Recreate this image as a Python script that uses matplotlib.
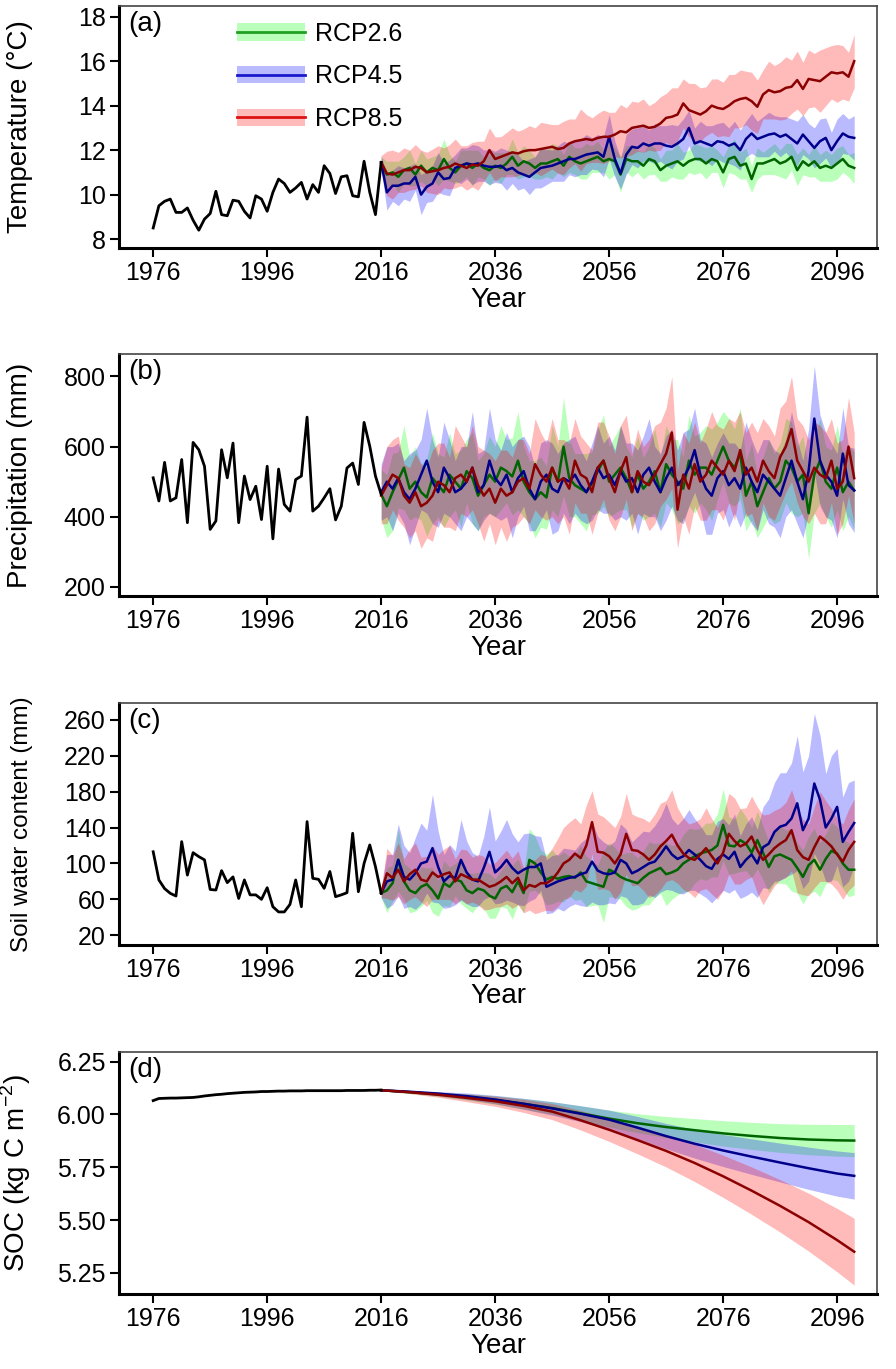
import numpy as np
import matplotlib
matplotlib.use('Agg')
from matplotlib import pyplot as plt
from matplotlib.patches import Patch
from matplotlib.lines import Line2D
from matplotlib.ticker import FormatStrFormatter

plt.rcParams['font.family'] = ['Liberation Sans', 'DejaVu Sans']
plt.rcParams['mathtext.fontset'] = 'custom'
plt.rcParams['mathtext.rm'] = 'Liberation Sans'

# ---------------- data ----------------
hist_years = np.arange(1976, 2017)
proj_years = np.arange(2016, 2100)
scenarios = ['RCP2.6', 'RCP4.5', 'RCP8.5']

temp_hist = [8.5, 9.5, 9.7, 9.8, 9.2, 9.2, 9.4, 8.85, 8.4, 8.9,
             9.15, 10.15, 9.1, 9.05, 9.75, 9.7, 9.25, 8.95, 9.95, 9.8,
             9.25, 10.1, 10.7, 10.5, 10.1, 10.3, 10.55, 9.8, 10.45, 10.1,
             11.3, 10.95, 10.05, 10.8, 10.85, 9.95, 9.9, 11.5, 10.1, 9.1,
             11.45]
temp_26 = [11.4, 10.9, 11.0, 10.8, 11.1, 11.2, 10.9, 11.3, 11.0, 11.2,
           11.1, 11.6, 11.2, 11.0, 11.3, 11.4, 11.2, 11.4, 11.2, 11.1,
           11.3, 11.2, 11.4, 11.7, 11.3, 11.5, 11.4, 11.2, 11.4, 11.4,
           11.5, 11.6, 11.3, 11.7, 11.5, 11.4, 11.5, 11.6, 11.7, 11.5,
           11.6, 11.5, 10.9, 11.6, 11.5, 11.5, 11.3, 11.6, 11.5, 11.1,
           11.3, 11.4, 11.5, 11.3, 11.5, 11.6, 11.6, 11.4, 11.6, 11.5,
           11.0, 11.6, 11.7, 11.3, 11.4, 10.7, 11.4, 11.4, 11.5, 11.6,
           11.4, 11.5, 11.7, 11.1, 11.5, 11.3, 11.5, 11.2, 11.3, 11.2,
           11.4, 11.6, 11.3, 11.2]
temp_45 = [11.45, 10.1, 10.4, 10.4, 10.5, 10.5, 10.8, 10.0, 10.35, 10.5,
           11.0, 10.7, 10.75, 11.2, 11.3, 11.4, 11.35, 11.4, 11.3, 11.25,
           11.25, 11.3, 11.1, 11.2, 11.0, 10.9, 10.8, 11.0, 11.2, 11.25,
           11.3, 11.4, 11.5, 11.6, 11.6, 11.7, 11.8, 11.85, 11.9, 11.7,
           12.6, 11.6, 10.95, 11.8, 12.15, 12.1, 12.3, 12.2, 12.3, 12.3,
           12.2, 12.15, 12.3, 12.5, 13.0, 12.3, 12.4, 12.3, 12.2, 12.4,
           12.35, 12.2, 12.3, 12.0, 12.5, 12.75, 12.5, 12.6, 12.7, 12.75,
           12.6, 12.7, 12.5, 12.3, 12.7, 12.4, 12.1, 12.4, 12.55, 12.0,
           12.4, 12.75, 12.6, 12.55]
temp_85 = [11.45, 10.95, 10.9, 11.0, 11.1, 11.1, 11.25, 11.2, 11.0, 11.05,
           11.1, 11.2, 11.25, 11.4, 11.3, 11.2, 11.35, 11.3, 11.5, 12.0,
           11.6, 11.7, 11.8, 11.9, 11.85, 11.95, 12.0, 12.0, 12.05, 12.1,
           12.15, 12.05, 12.1, 12.3, 12.4, 12.45, 12.5, 12.45, 12.55, 12.6,
           12.6, 12.7, 12.85, 12.8, 13.0, 13.05, 13.1, 13.0, 13.05, 13.2,
           13.45, 13.5, 13.6, 14.1, 13.8, 13.7, 13.6, 13.75, 14.0, 13.9,
           13.85, 14.0, 14.2, 14.3, 14.35, 14.2, 13.95, 14.5, 14.7, 14.6,
           14.65, 14.8, 14.85, 15.15, 14.75, 15.2, 15.15, 15.1, 15.3, 15.5,
           15.45, 15.5, 15.3, 16.0]
temp_26_sd = [0.3, 0.6, 0.5, 0.7, 0.6, 0.8, 0.5, 0.7, 0.6, 0.5,
              0.7, 0.9, 0.6, 0.5, 0.7, 0.6, 0.8, 0.6, 0.5, 0.7,
              0.6, 0.7, 0.5, 0.8, 0.6, 0.7, 0.6, 0.5, 0.7, 0.6,
              0.8, 0.6, 0.5, 0.7, 0.6, 0.7, 0.8, 0.6, 0.7, 0.5,
              0.9, 0.6, 0.8, 0.6, 0.7, 0.5, 0.6, 0.7, 0.6, 0.5,
              0.7, 0.6, 0.8, 0.6, 0.5, 0.7, 0.6, 0.7, 0.6, 0.5,
              0.7, 0.6, 0.8, 0.6, 0.7, 0.6, 0.7, 0.5, 0.6, 0.7,
              0.6, 0.8, 0.6, 0.7, 0.6, 0.5, 0.7, 0.6, 0.7, 0.6,
              0.7, 0.6, 0.5, 0.7]
temp_45_sd = [0.3, 0.8, 0.7, 0.9, 0.7, 0.8, 0.6, 0.9, 0.7, 0.8,
              0.9, 0.7, 0.8, 0.6, 0.8, 0.7, 0.9, 0.8, 0.7, 0.8,
              0.7, 0.8, 0.9, 0.7, 0.8, 0.6, 0.8, 0.7, 0.9, 0.8,
              0.7, 0.8, 0.9, 0.7, 0.8, 0.8, 0.9, 0.7, 0.8, 0.9,
              1.0, 0.8, 0.7, 0.9, 0.8, 0.9, 0.8, 0.7, 0.9, 0.8,
              0.9, 1.0, 0.8, 0.9, 0.8, 0.7, 0.9, 0.8, 0.9, 0.8,
              0.9, 0.8, 1.0, 0.9, 0.8, 0.9, 0.8, 0.9, 1.0, 0.8,
              0.9, 0.8, 0.9, 1.0, 0.9, 0.8, 0.9, 1.0, 0.9, 0.8,
              1.0, 0.9, 0.8, 1.0]
temp_85_sd = [0.3, 1.0, 1.1, 0.9, 1.0, 0.9, 1.0, 0.8, 0.9, 1.0,
              1.1, 0.9, 1.0, 1.1, 0.9, 1.0, 1.0, 1.1, 0.9, 1.0,
              1.0, 0.9, 1.0, 1.1, 1.0, 1.0, 1.1, 1.0, 1.2, 1.1,
              1.0, 1.1, 1.2, 1.1, 1.0, 1.4, 1.1, 1.0, 1.1, 1.2,
              1.1, 1.0, 1.2, 1.1, 1.2, 1.1, 1.2, 1.0, 1.1, 1.2,
              1.1, 1.3, 1.2, 1.1, 1.2, 1.3, 1.2, 1.1, 1.2, 1.3,
              1.2, 1.4, 1.2, 1.3, 1.2, 1.3, 1.2, 1.1, 1.3, 1.2,
              1.3, 1.4, 1.2, 1.3, 1.2, 1.3, 1.2, 1.4, 1.3, 1.2,
              1.3, 1.2, 1.1, 1.2]

prec_hist = [511, 445, 555, 445, 454, 563, 383, 612, 591, 544,
             364, 388, 591, 511, 610, 383, 516, 449, 487, 392,
             544, 337, 536, 435, 416, 506, 516, 684, 416, 430,
             454, 480, 391, 430, 539, 553, 492, 669, 601, 516,
             464]
prec_26 = [464, 430, 470, 505, 540, 480, 500, 470, 455, 510,
           490, 470, 520, 500, 480, 530, 510, 460, 490, 520,
           500, 540, 530, 515, 560, 500, 470, 450, 470, 455,
           540, 500, 600, 510, 490, 480, 470, 495, 530, 560,
           500, 520, 540, 510, 470, 520, 480, 500, 530, 470,
           550, 520, 500, 480, 560, 520, 540, 540, 520, 560,
           600, 560, 540, 580, 460, 500, 430, 470, 510, 480,
           500, 560, 540, 500, 520, 410, 520, 560, 500, 480,
           540, 470, 500, 475]
prec_45 = [470, 500, 480, 510, 470, 450, 480, 520, 560, 500,
           470, 540, 510, 470, 480, 500, 540, 470, 490, 560,
           510, 490, 520, 470, 510, 530, 480, 450, 500, 520,
           480, 470, 510, 500, 520, 490, 470, 500, 540, 510,
           520, 490, 530, 500, 510, 470, 520, 540, 500, 470,
           510, 540, 490, 510, 540, 590, 520, 480, 460, 510,
           530, 490, 510, 480, 540, 500, 470, 520, 500, 480,
           460, 510, 560, 500, 450, 530, 680, 560, 520, 500,
           460, 580, 490, 475]
prec_85 = [460, 490, 520, 510, 460, 440, 470, 430, 440, 460,
           500, 490, 470, 510, 520, 500, 540, 490, 460, 480,
           440, 480, 460, 470, 500, 510, 480, 550, 520, 500,
           540, 500, 510, 480, 560, 520, 510, 470, 540, 560,
           510, 470, 530, 570, 470, 530, 500, 490, 520, 550,
           580, 640, 420, 520, 480, 550, 500, 520, 560, 540,
           520, 560, 530, 590, 520, 540, 500, 560, 530, 510,
           570, 600, 650, 560, 530, 500, 540, 520, 510, 560,
           480, 500, 600, 510]
prec_26_sd = [70, 90, 110, 80, 120, 90, 100, 80, 110, 130,
              90, 100, 120, 80, 110, 90, 130, 100, 90, 110,
              100, 120, 90, 110, 140, 100, 90, 110, 100, 90,
              120, 100, 140, 110, 90, 100, 110, 90, 120, 130,
              100, 110, 120, 90, 100, 110, 90, 100, 120, 100,
              110, 100, 120, 90, 130, 110, 100, 120, 130, 110,
              100, 120, 110, 130, 100, 110, 90, 100, 110, 100,
              110, 120, 130, 100, 110, 130, 110, 120, 100, 110,
              120, 110, 100, 110]
prec_45_sd = [80, 100, 120, 100, 90, 130, 110, 100, 150, 120,
              100, 130, 110, 90, 120, 100, 160, 110, 100, 150,
              110, 100, 120, 130, 110, 100, 120, 90, 110, 100,
              130, 110, 100, 120, 110, 100, 90, 110, 120, 100,
              110, 100, 130, 110, 100, 120, 110, 140, 100, 110,
              120, 110, 100, 130, 110, 120, 100, 130, 110, 100,
              110, 120, 100, 110, 130, 120, 110, 100, 120, 110,
              120, 110, 140, 120, 110, 120, 150, 130, 120, 110,
              120, 130, 110, 120]
prec_85_sd = [80, 110, 100, 120, 90, 100, 110, 120, 100, 130,
              110, 120, 100, 150, 110, 100, 120, 110, 130, 100,
              120, 110, 130, 100, 120, 110, 100, 130, 120, 110,
              140, 120, 110, 130, 120, 110, 100, 120, 130, 110,
              120, 110, 130, 120, 110, 120, 100, 130, 140, 120,
              130, 160, 110, 120, 130, 120, 110, 130, 140, 120,
              130, 120, 140, 110, 120, 130, 140, 120, 130, 120,
              140, 130, 150, 120, 130, 120, 130, 140, 130, 120,
              130, 120, 140, 130]

sw_hist = [113, 81.6, 72, 66.7, 63.7, 124.3, 87, 112, 107.6, 104,
           71, 70.4, 92, 78.6, 85, 61, 81.6, 65, 65, 60,
           73, 51.8, 46, 46, 54.4, 81.6, 51.8, 146.6, 83.4, 82.3,
           72.3, 91, 63, 65, 67.4, 133.6, 68.5, 100, 120.6, 96.4,
           66.7]
sw_26 = [67, 70, 78, 104, 80, 70, 67, 74, 77, 70,
         61, 78, 74, 82, 80, 70, 67, 72, 70, 64,
         61, 72, 75, 68, 80, 67, 104, 100, 90, 82,
         85, 83, 85, 86, 84, 90, 80, 78, 76, 74,
         93, 90, 85, 82, 80, 78, 84, 89, 92, 95,
         88, 90, 93, 100, 104, 108, 111, 113, 115, 120,
         143, 120, 119, 126, 122, 112, 126, 112, 96, 108,
         110, 107, 104, 95, 85, 98, 104, 93, 105, 114,
         111, 100, 93, 93]
sw_45 = [67, 80, 82, 104, 85, 82, 89, 100, 102, 117,
         96, 80, 86, 84, 104, 90, 82, 80, 95, 113,
         90, 96, 104, 95, 89, 93, 96, 96, 100, 74,
         77, 80, 82, 84, 85, 88, 90, 102, 92, 89,
         88, 90, 104, 100, 89, 92, 96, 100, 102, 110,
         119, 110, 105, 108, 115, 110, 104, 97, 94, 105,
         110, 105, 113, 96, 104, 110, 100, 118, 122, 135,
         141, 143, 150, 167, 137, 150, 189, 171, 140, 150,
         163, 124, 135, 145]
sw_85 = [67, 89, 84, 93, 80, 88, 93, 82, 80, 90,
         85, 88, 90, 80, 88, 85, 82, 82, 78, 74,
         76, 80, 85, 78, 84, 70, 76, 74, 78, 78,
         82, 90, 100, 104, 111, 106, 120, 146, 113, 112,
         108, 100, 110, 133, 115, 114, 110, 104, 110, 119,
         125, 132, 120, 111, 106, 104, 110, 117, 108, 100,
         112, 133, 125, 119, 122, 130, 115, 104, 110, 117,
         122, 126, 137, 115, 107, 104, 118, 130, 125, 119,
         110, 102, 115, 124]
sw_26_sd = [5, 25, 20, 35, 20, 25, 20, 22, 18, 25,
            20, 25, 22, 18, 25, 20, 22, 18, 20, 25,
            22, 20, 25, 30, 25, 22, 35, 30, 25, 28,
            30, 25, 28, 22, 25, 30, 28, 25, 22, 40,
            30, 28, 25, 30, 32, 28, 30, 35, 30, 28,
            35, 30, 28, 32, 35, 30, 28, 32, 30, 35,
            40, 32, 30, 35, 30, 28, 32, 30, 28, 30,
            32, 30, 35, 28, 30, 32, 35, 30, 28, 32,
            30, 28, 30, 28]
sw_45_sd = [5, 30, 28, 40, 35, 30, 40, 45, 35, 60,
            40, 30, 35, 30, 45, 35, 30, 28, 35, 50,
            35, 40, 45, 38, 35, 40, 38, 35, 30, 30,
            32, 30, 35, 32, 30, 35, 38, 45, 38, 35,
            32, 35, 40, 38, 35, 38, 40, 35, 40, 42,
            48, 40, 38, 42, 45, 40, 38, 35, 38, 42,
            40, 38, 42, 35, 40, 42, 38, 45, 50, 55,
            60, 58, 62, 75, 65, 70, 78, 72, 60, 70,
            65, 50, 55, 48]
sw_85_sd = [5, 28, 25, 30, 25, 28, 30, 25, 28, 30,
            25, 28, 30, 25, 28, 30, 25, 28, 30, 25,
            25, 28, 30, 28, 30, 25, 28, 30, 32, 30,
            35, 38, 40, 42, 40, 38, 45, 35, 42, 40,
            38, 40, 42, 45, 40, 38, 40, 42, 45, 48,
            45, 50, 42, 40, 38, 42, 40, 45, 42, 40,
            42, 45, 48, 42, 40, 45, 48, 50, 45, 42,
            40, 42, 45, 48, 42, 40, 45, 50, 45, 42,
            40, 42, 45, 48]

soc_hist = [6.065, 6.075, 6.076, 6.077, 6.077, 6.078, 6.079, 6.080, 6.083, 6.087,
            6.090, 6.093, 6.095, 6.098, 6.100, 6.102, 6.104, 6.105, 6.106, 6.108,
            6.108, 6.109, 6.110, 6.110, 6.111, 6.111, 6.111, 6.112, 6.112, 6.112,
            6.112, 6.112, 6.112, 6.112, 6.113, 6.113, 6.113, 6.113, 6.114, 6.114,
            6.115]
soc_years = [2016, 2021, 2026, 2031, 2036, 2041, 2046, 2051, 2056,
             2061, 2066, 2071, 2076, 2081, 2086, 2091, 2096, 2099]
soc_26 = [6.114, 6.105, 6.095, 6.083, 6.068, 6.050, 6.030, 6.005, 5.980,
          5.958, 5.940, 5.925, 5.910, 5.898, 5.888, 5.881, 5.877, 5.876]
soc_45 = [6.114, 6.107, 6.098, 6.086, 6.070, 6.050, 6.028, 6.003, 5.975,
          5.937, 5.897, 5.861, 5.829, 5.800, 5.772, 5.745, 5.720, 5.709]
soc_85 = [6.114, 6.105, 6.093, 6.078, 6.062, 6.040, 6.013, 5.972, 5.927,
          5.878, 5.827, 5.770, 5.707, 5.639, 5.567, 5.490, 5.405, 5.350]
soc_26_sd = [0.003, 0.006, 0.010, 0.015, 0.020, 0.025, 0.030, 0.035, 0.040,
             0.045, 0.050, 0.055, 0.060, 0.064, 0.068, 0.072, 0.075, 0.076]
soc_45_sd = [0.003, 0.006, 0.010, 0.015, 0.020, 0.026, 0.032, 0.038, 0.045,
             0.053, 0.060, 0.068, 0.076, 0.084, 0.092, 0.100, 0.107, 0.110]
soc_85_sd = [0.003, 0.007, 0.012, 0.018, 0.024, 0.031, 0.038, 0.046, 0.055,
             0.065, 0.076, 0.088, 0.100, 0.112, 0.124, 0.137, 0.150, 0.158]

# ---------------- style ----------------
band_cols = ['#00ff00', '#0000ff', '#ff0000']
line_cols = ['#006400', '#00008b', '#8b0000']
leg_cols = ['#22a022', '#1a1acc', '#dd1111']
band_alpha = 0.27

W, H = 896, 1369
fig = plt.figure(figsize=(W / 100, H / 100), dpi=100)
left, right = 119, 877
tops = [6, 354, 702.7, 1052]
ph = 242
axs = [fig.add_axes([left / W, 1 - (t + ph) / H, (right - left) / W, ph / H]) for t in tops]


def draw(ax, hist, means, sds, x_proj):
    for m, s, bc in zip(means, sds, band_cols):
        m, s = np.asarray(m), np.asarray(s)
        ax.fill_between(x_proj, m - s, m + s, color=bc, alpha=band_alpha, lw=0)
    for m, lc in zip(means, line_cols):
        ax.plot(x_proj, m, color=lc, lw=1.8)
    ax.plot(hist_years, hist, color='k', lw=2.0)


def style(ax, ylim, yticks, ylabel, tag, ysize=20, fmt=None):
    ax.set_xlim(1970, 2103)
    ax.set_xticks(np.arange(1976, 2100, 20))
    ax.set_ylim(*ylim)
    ax.set_yticks(yticks)
    if fmt:
        ax.yaxis.set_major_formatter(FormatStrFormatter(fmt))
    ax.tick_params(direction='out', length=6.5, width=1.5, labelsize=18, pad=3)
    for s in ['left', 'bottom']:
        ax.spines[s].set_linewidth(2.2)
    for s in ['top', 'right']:
        ax.spines[s].set_linewidth(1.2)
        ax.spines[s].set_color('#444444')
    ax.set_xlabel('Year', fontsize=20, labelpad=1)
    ax.set_ylabel(ylabel, fontsize=ysize)
    ax.yaxis.set_label_coords(-0.113, 0.5)
    ax.text(0.012, 0.98, tag, transform=ax.transAxes, fontsize=20, va='top', ha='left')


draw(axs[0], temp_hist, [temp_26, temp_45, temp_85], [temp_26_sd, temp_45_sd, temp_85_sd], proj_years)
style(axs[0], (7.6, 18.48), [8, 10, 12, 14, 16, 18], 'Temperature (°C)', '(a)')

draw(axs[1], prec_hist, [prec_26, prec_45, prec_85], [prec_26_sd, prec_45_sd, prec_85_sd], proj_years)
style(axs[1], (174, 864), [200, 400, 600, 800], 'Precipitation (mm)', '(b)')

draw(axs[2], sw_hist, [sw_26, sw_45, sw_85], [sw_26_sd, sw_45_sd, sw_85_sd], proj_years)
style(axs[2], (9.5, 279), [20, 60, 100, 140, 180, 220, 260], 'Soil water content (mm)', '(c)', ysize=17.5)

draw(axs[3], soc_hist, [soc_26, soc_45, soc_85], [soc_26_sd, soc_45_sd, soc_85_sd], soc_years)
style(axs[3], (5.15, 6.295), [5.25, 5.5, 5.75, 6.0, 6.25], 'SOC (kg C m$^{-2}$)', '(d)', fmt='%.2f')

handles = [(Patch(facecolor=bc, alpha=band_alpha, lw=0), Line2D([], [], color=lc, lw=2))
           for bc, lc in zip(band_cols, leg_cols)]
axs[0].legend(handles, scenarios, loc='upper left', bbox_to_anchor=(0.156, 0.935),
              frameon=False, fontsize=18, handlelength=2.7, handleheight=0.7,
              labelspacing=0.75, handletextpad=0.4, borderaxespad=0, borderpad=0)

fig.savefig('out.png', dpi=100)
